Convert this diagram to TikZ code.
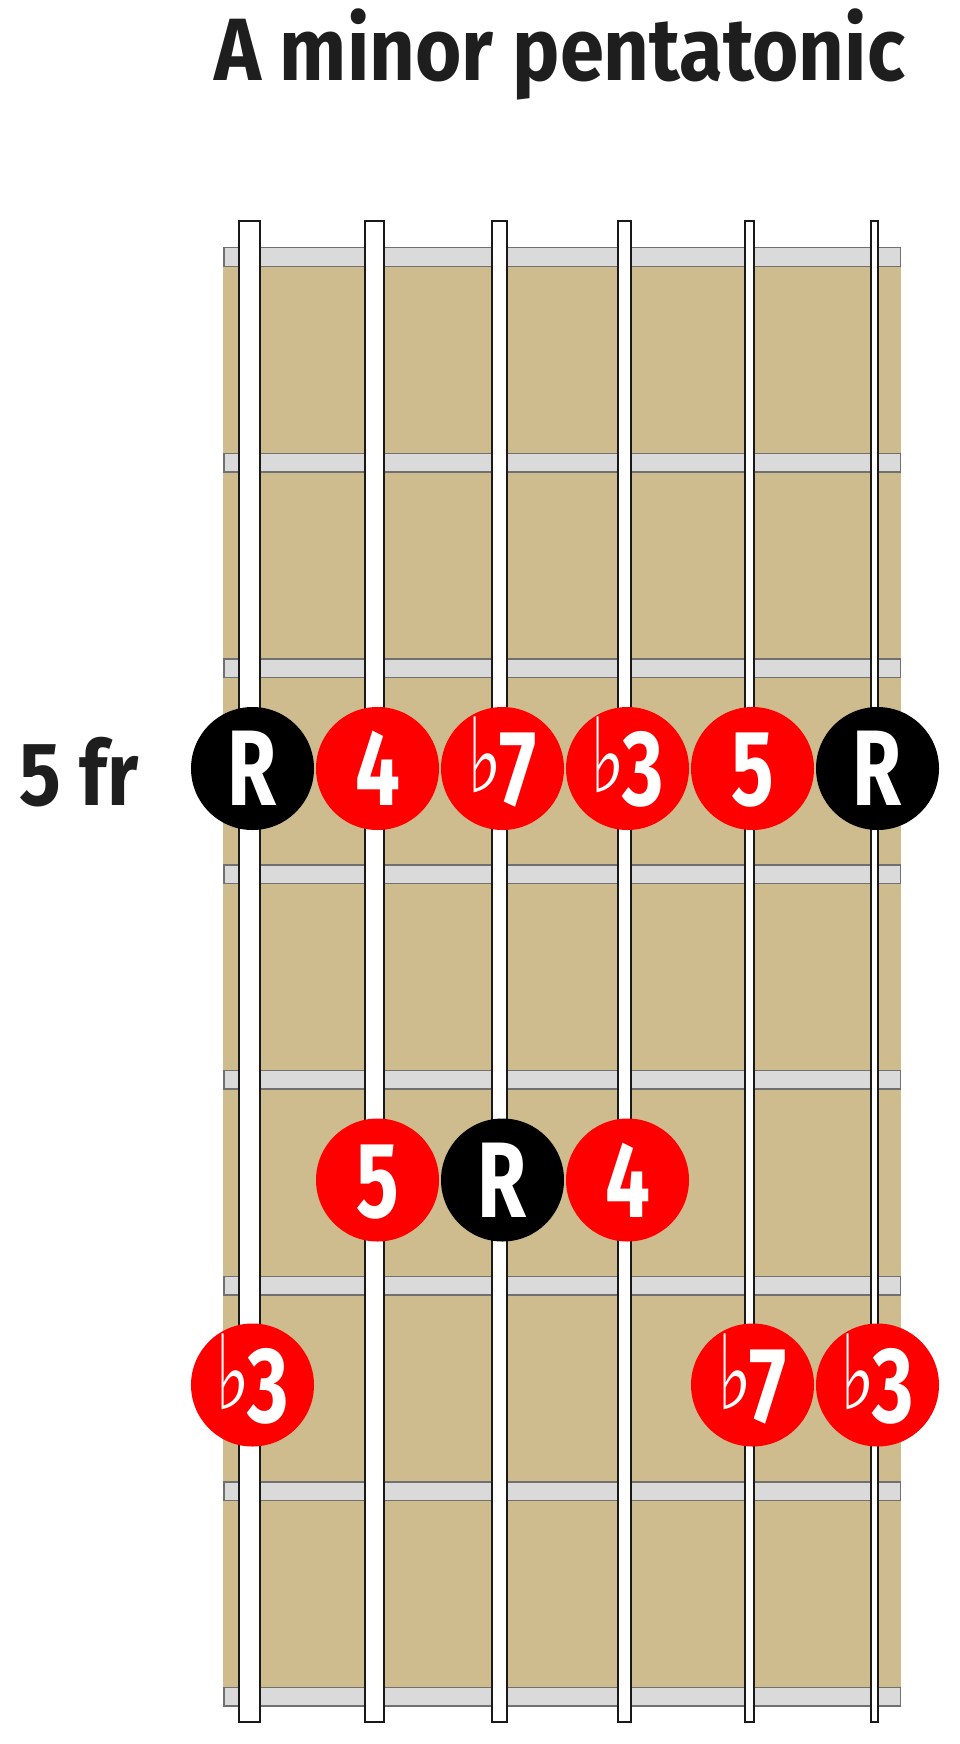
\documentclass[tikz,border=0pt]{standalone}
\usepackage{fontspec}
\setmainfont{Fira Sans}
\newfontfamily\djv{DejaVu Sans}
\usepackage{graphicx}
\definecolor{woodtan}{HTML}{CEBB8E}
\definecolor{fretgray}{HTML}{DADADA}
\definecolor{fretedge}{HTML}{707070}
\definecolor{inkdark}{HTML}{1E1E1E}
\definecolor{noteRed}{HTML}{FF0000}
\newcommand{\flt}{\raisebox{13pt}{\resizebox*{35pt}{76pt}{\djv ♭}}\hspace{-3pt}}
\newcommand{\lbl}[1]{\scalebox{0.74}[1]{\fontsize{107.4pt}{107.4pt}\selectfont\bfseries #1}}
\tikzset{
  fretbar/.style={rectangle, draw=fretedge, fill=fretgray, line width=1.5pt, inner sep=0pt, minimum width=676.5pt, minimum height=18.5pt},
  stringbar/.style={rectangle, draw=black!90, fill=white, line width=2pt, inner sep=0pt, minimum height=1501pt},
  dot/.style={circle, fill=#1, inner sep=0pt, minimum size=123pt, text=white, text height=74pt, text depth=0pt},
  titletext/.style={inner sep=0pt, text=inkdark, anchor=base west}
}
\begin{document}
\begin{tikzpicture}[x=1pt,y=-1pt]
\useasboundingbox (0,0) rectangle (960,1744);
% title and fret label
\node[titletext] (title) at (214,80.7) {\resizebox{691pt}{\height}{\fontsize{88.5pt}{88.5pt}\selectfont\bfseries A minor pentatonic}};
\node[titletext] (fretlabel) at (19.5,805) {\resizebox{119pt}{\height}{\fontsize{90pt}{90pt}\selectfont\bfseries 5 fr}};
% fretboard wood
\node[rectangle, fill=woodtan, inner sep=0pt, minimum width=678pt, minimum height=1440pt] (board) at (562,977) {};
% fret bars
\foreach \k in {0,...,7}{
  \node[fretbar] (fret\k) at (562,{257+205.7*\k}) {};
}
% strings
\foreach \i/\w in {1/23,2/21,3/17,4/15,5/11,6/9}{
  \node[stringbar, minimum width={(\w-2)*1pt}] (string\i) at ({249.5+125*(\i-1)},971.5) {};
}
% notes, row 1
\node[dot=black]   (a1) at (252.5,768.5) {\lbl{R}};
\node[dot=noteRed] (a2) at (377.5,768.5) {\lbl{4}};
\node[dot=noteRed] (a3) at (502.5,768.5) {\flt\lbl{7}};
\node[dot=noteRed] (a4) at (627.5,768.5) {\flt\lbl{3}};
\node[dot=noteRed] (a5) at (752.5,768.5) {\lbl{5}};
\node[dot=black]   (a6) at (877.5,768.5) {\lbl{R}};
% notes, row 2
\node[dot=noteRed] (b2) at (377.5,1180) {\lbl{5}};
\node[dot=black]   (b3) at (502.5,1180) {\lbl{R}};
\node[dot=noteRed] (b4) at (627.5,1180) {\lbl{4}};
% notes, row 3
\node[dot=noteRed] (c1) at (252.5,1385) {\flt\lbl{3}};
\node[dot=noteRed] (c5) at (752.5,1385) {\flt\lbl{7}};
\node[dot=noteRed] (c6) at (877.5,1385) {\flt\lbl{3}};
\end{tikzpicture}
\end{document}
